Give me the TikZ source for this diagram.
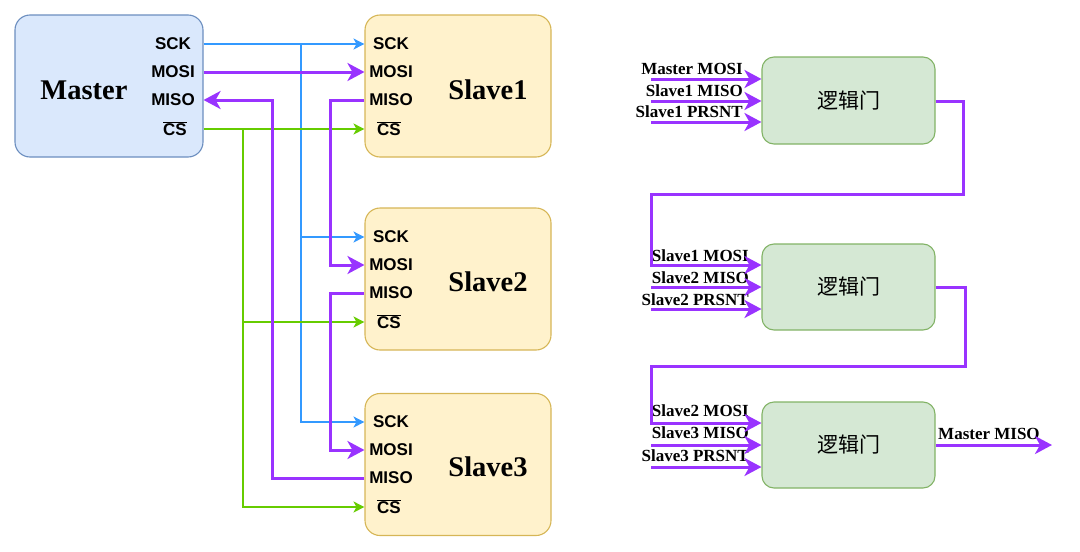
\documentclass[tikz,border=0pt]{standalone}
\usepackage{fontspec}
\setmainfont{Liberation Serif}
\setsansfont{Liberation Sans}
\newfontfamily\cjk{Noto Sans CJK SC}
\usetikzlibrary{arrows.meta,calc}
\definecolor{mfill}{HTML}{DAE8FC}
\definecolor{mdraw}{HTML}{6C8EBF}
\definecolor{sfill}{HTML}{FFF2CC}
\definecolor{sdraw}{HTML}{D6B656}
\definecolor{gfill}{HTML}{D5E8D4}
\definecolor{gdraw}{HTML}{82B366}
\definecolor{cblue}{HTML}{3399FF}
\definecolor{cgreen}{HTML}{66CC00}
\definecolor{cpurple}{HTML}{9933FF}
\tikzset{
  mbox/.style={draw=mdraw, fill=mfill, line width=1.1pt, rounded corners=15pt, minimum width=188pt, minimum height=142pt, inner sep=0pt},
  sbox/.style={draw=sdraw, fill=sfill, line width=1.1pt, rounded corners=15pt, minimum width=186pt, minimum height=142pt, inner sep=0pt},
  gbox/.style={draw=gdraw, fill=gfill, line width=1.1pt, rounded corners=12pt, minimum width=173pt, minimum height=86pt, inner sep=0pt, font=\cjk\fontsize{21}{25}\selectfont},
  title/.style={font=\bfseries\fontsize{28.5}{32}\selectfont, inner sep=0pt},
  pin/.style={font=\sffamily\bfseries\fontsize{17}{20}\selectfont, inner sep=0pt},
  lab/.style={font=\bfseries\fontsize{17}{20}\selectfont, inner sep=0pt},
  bl/.style={draw=cblue, line width=1.2pt, -{Stealth[length=11pt,width=11pt,inset=3pt]}},
  gr/.style={draw=cgreen, line width=1.4pt, -{Stealth[length=11pt,width=11pt,inset=3pt]}},
  pu/.style={draw=cpurple, line width=3pt, -{Stealth[length=17pt,width=18pt,inset=5pt]}},
  pun/.style={draw=cpurple, line width=3pt}
}
\newcommand{\ovcs}{\ensuremath{\overline{\hbox{CS}}}}
\begin{document}
\begin{tikzpicture}[x=1pt,y=-1pt]
\useasboundingbox (0,0) rectangle (1080,552);
% boxes
\node[mbox] (m) at (109,86) {};
\node[sbox] (s1) at (458,86) {};
\node[sbox] (s2) at (458,279) {};
\node[sbox] (s3) at (458,464.5) {};
\node[title] (mt) at (84,90) {Master};
\node[title] (s1t) at (488,90) {Slave1};
\node[title] (s2t) at (488,282) {Slave2};
\node[title] (s3t) at (488,467) {Slave3};
% master pins
\node[pin] (msck) at (173,44) {SCK};
\node[pin] (mmosi) at (173,72) {MOSI};
\node[pin] (mmiso) at (173,100) {MISO};
\node[pin] (mcs) at (175,129) {\ovcs};
% slave pins
\foreach \s/\y in {s1/15, s2/208, s3/393}{
  \node[pin] (\s sck) at (391,\y+29) {SCK};
  \node[pin] (\s mosi) at (391,\y+57) {MOSI};
  \node[pin] (\s miso) at (391,\y+85) {MISO};
  \node[pin] (\s cs) at (389,\y+114) {\ovcs};
}
% bus x positions
\coordinate (xg) at (243,0);
\coordinate (xm) at (272,0);
\coordinate (xb) at (301,0);
\coordinate (xc) at (330,0);
% SCK
\draw[bl] (m.east |- msck) -- (s1.west |- s1sck);
\draw[bl] (xb |- msck) |- (s2.west |- s2sck);
\draw[bl] (xb |- msck) |- (s3.west |- s3sck);
% CS
\draw[gr] (m.east |- mcs) -- (s1.west |- s1cs);
\draw[gr] (xg |- mcs) |- (s2.west |- s2cs);
\draw[gr] (xg |- mcs) |- (s3.west |- s3cs);
% MOSI / MISO chain
\draw[pu] (m.east |- mmosi) -- (s1.west |- s1mosi);
\draw[pu] (s1.west |- s1miso) -- (xc |- s1miso) -- (xc |- s2mosi) -- (s2.west |- s2mosi);
\draw[pu] (s2.west |- s2miso) -- (xc |- s2miso) -- (xc |- s3mosi) -- (s3.west |- s3mosi);
\draw[pu] (s3.west |- s3miso) -- (xm |- s3miso) -- (xm |- mmiso) -- (m.east |- mmiso);
% logic gates
\node[gbox, minimum height=87pt] (g1) at (848.5,100.5) {逻辑门};
\node[gbox] (g2) at (848.5,287) {逻辑门};
\node[gbox] (g3) at (848.5,445) {逻辑门};
% inputs
\coordinate (i11) at (651,79);
\coordinate (i12) at (651,101);
\coordinate (i13) at (651,122);
\coordinate (i21) at (651,265);
\coordinate (i22) at (651,287);
\coordinate (i23) at (651,309);
\coordinate (i31) at (651,423);
\coordinate (i32) at (651,445);
\coordinate (i33) at (651,467);
\coordinate (r1) at (963,194);
\coordinate (r2) at (965,366);
\coordinate (mout) at (1052,445);
\node[lab, anchor=base east] (l11) at (743,74) {Master MOSI};
\node[lab, anchor=base east] (l12) at (743,96) {Slave1 MISO};
\node[lab, anchor=base east] (l13) at (743,117) {Slave1 PRSNT};
\node[lab, anchor=base east] (l21) at (749,261) {Slave1 MOSI};
\node[lab, anchor=base east] (l22) at (749,283) {Slave2 MISO};
\node[lab, anchor=base east] (l23) at (749,305) {Slave2 PRSNT};
\node[lab, anchor=base east] (l31) at (749,416) {Slave2 MOSI};
\node[lab, anchor=base east] (l32) at (749,438) {Slave3 MISO};
\node[lab, anchor=base east] (l33) at (749,461) {Slave3 PRSNT};
\node[lab, anchor=base west] (lout) at (938,439) {Master MISO};
\draw[pu] (i11) -- (g1.west |- i11);
\draw[pu] (i12) -- (g1.west |- i12);
\draw[pu] (i13) -- (g1.west |- i13);
\draw[pu] (g1.east |- i12) -| (r1) -| (i21) -- (g2.west |- i21);
\draw[pu] (i22) -- (g2.west |- i22);
\draw[pu] (i23) -- (g2.west |- i23);
\draw[pu] (g2.east |- i22) -| (r2) -| (i31) -- (g3.west |- i31);
\draw[pu] (i32) -- (g3.west |- i32);
\draw[pu] (i33) -- (g3.west |- i33);
\draw[pu] (g3.east |- i32) -- (mout);
\end{tikzpicture}
\end{document}
